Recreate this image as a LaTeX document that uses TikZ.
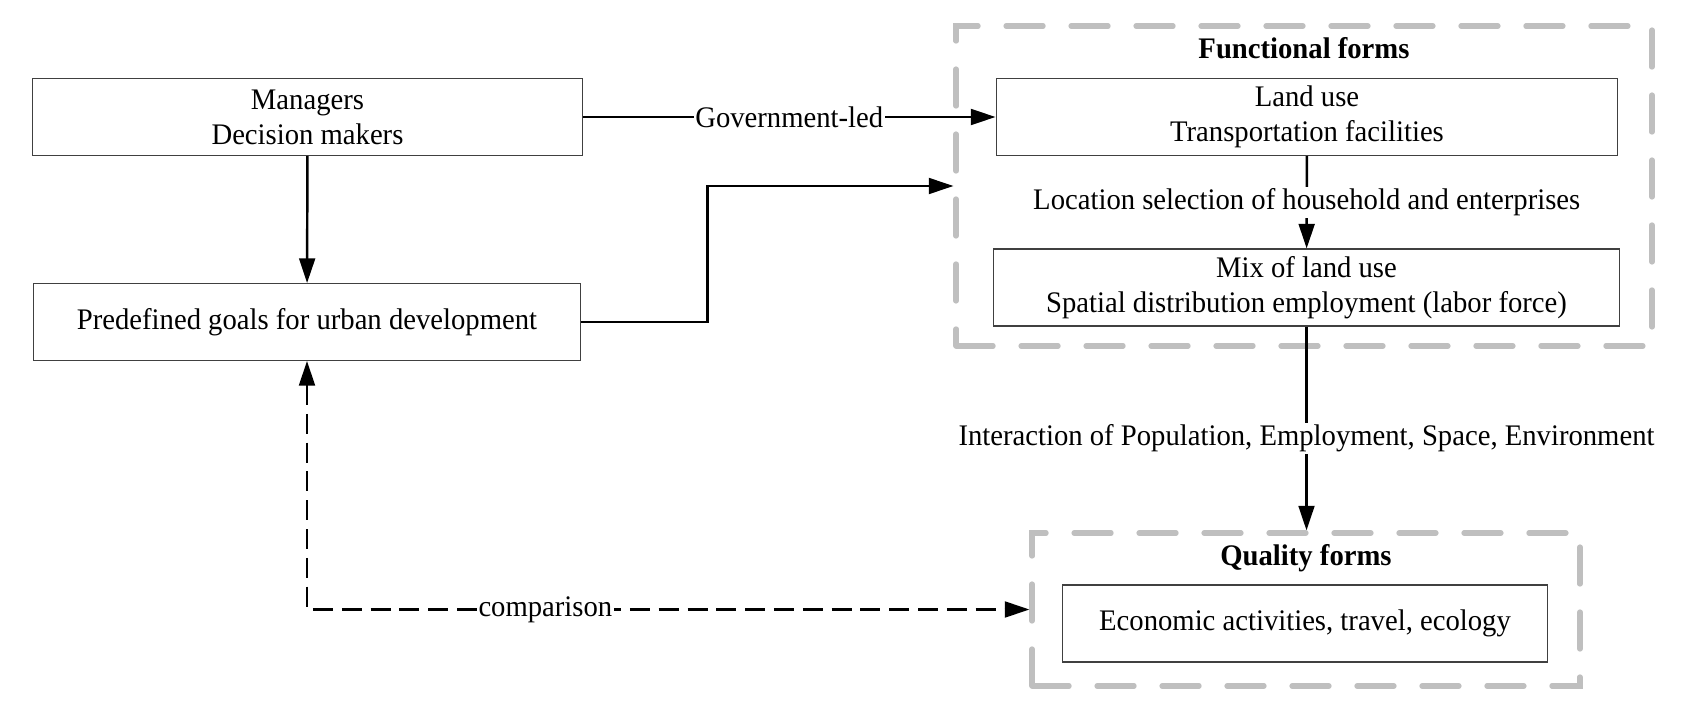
\documentclass[tikz,border=0pt]{standalone}
\usepackage{fontspec}
\setmainfont[FakeStretch=0.96]{Liberation Serif}
\usetikzlibrary{arrows.meta}

\tikzset{
  blockbox/.style={draw=black!75, line width=0.6pt, align=center, minimum height=1.54cm, inner sep=0pt},
  groupbox/.style={draw=black!25, line width=3pt, dash pattern=on 0.74cm off 0.56cm, line cap=round, inner sep=0pt},
  flow/.style={line width=1.4pt, -{Triangle[length=14pt,width=9pt]}},
  cmpflow/.style={line width=1.5pt, dash pattern=on 11.4pt off 5pt, {Triangle[length=14pt,width=9pt]}-{Triangle[length=14pt,width=9pt]}},
  flowlabel/.style={fill=white, inner sep=1pt},
  grouptitle/.style={font=\fontsize{17}{20}\selectfont\bfseries},
}

\begin{document}
\begin{tikzpicture}[x=0.02cm, y=-0.02cm, font=\fontsize{17}{20}\selectfont]
  \useasboundingbox (0,0) rectangle (1688,710);
  % groups
  \node[groupbox, minimum width=13.92cm, minimum height=6.4cm] (nFunc) at (1304,186) {};
  \node[groupbox, minimum width=10.96cm, minimum height=3.06cm] (nQual) at (1306,609.5) {};
  \node[grouptitle] (tFunc) at (1304,48) {Functional forms};
  \node[grouptitle] (tQual) at (1306,558) {Quality forms};
  % boxes
  \node[blockbox, minimum width=11cm] (nMgr) at (307.5,117) {Managers\\Decision makers};
  \node[blockbox, minimum width=10.96cm] (nGoal) at (307,322) {Predefined goals for urban development};
  \node[blockbox, minimum width=12.44cm] (nLand) at (1307,117) {Land use\\Transportation facilities};
  \node[blockbox, minimum width=12.54cm] (nMix) at (1306.5,287.5) {Mix of land use\\Spatial distribution employment (labor force)};
  \node[blockbox, minimum width=9.72cm] (nEco) at (1305,623.5) {Economic activities, travel, ecology};
  % connectors
  \draw[flow] (nMgr) -- node[flowlabel] {Government-led} (nLand);
  \draw[flow] (nMgr) -- (nGoal);
  \draw[flow] (nGoal.east) -- ++(126,0) |- (nFunc.west);
  \draw[flow] (nLand) -- node[flowlabel] {Location selection of household and enterprises} (nMix);
  \draw[flow] (nMix.south) -- node[flowlabel, pos=0.55] {Interaction of Population, Employment, Space, Environment} (nMix.south |- nQual.north);
  \draw[cmpflow] (nGoal.south) |- node[flowlabel, pos=0.665] {comparison} (nQual.west);
\end{tikzpicture}
\end{document}
